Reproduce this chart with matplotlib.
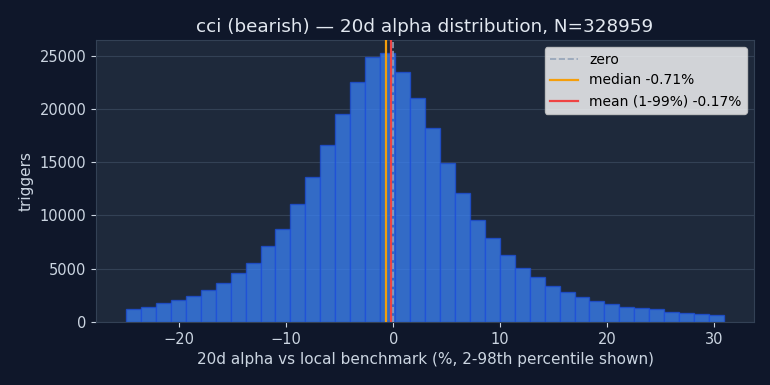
import numpy as np
import matplotlib
matplotlib.use("Agg")
import matplotlib.pyplot as plt

# Histogram data (2-98th percentile range, 40 bins)
p2_value = -25.0
p98_value = 30.95
n_bins = 40
counts = [1180, 1370, 1760, 2040, 2420, 2960, 3620, 4560, 5500, 7100,
          8700, 11070, 13600, 16580, 19480, 22490, 24830, 25200, 23420, 20990,
          18170, 14890, 12070, 9540, 7850, 6260, 5020, 4180, 3330, 2770,
          2300, 1970, 1690, 1380, 1285, 1190, 910, 816, 722, 628]
median_value = -0.71
mean_value = -0.17
n_total = 328959
title = f"cci (bearish) \u2014 20d alpha distribution, N={n_total}"

edges = np.linspace(p2_value, p98_value, n_bins + 1)
centers = (edges[:-1] + edges[1:]) / 2

fig_bg = "#0f172a"
ax_bg = "#1e293b"
grid_c = "#334155"
text_c = "#cbd5e1"

fig = plt.figure(figsize=(7.7, 3.85), dpi=100, facecolor=fig_bg)
ax = fig.add_axes([0.1247, 0.164, 0.8545, 0.732])
ax.set_facecolor(ax_bg)

ax.hist(centers, bins=edges, weights=counts, color="#3b82f6", alpha=0.75,
        edgecolor="#1d4ed8", linewidth=1.0, zorder=2)

ax.axvline(0, color="#94a3b8", linestyle="--", linewidth=1.2, label="zero", zorder=3)
ax.axvline(median_value, color="#f59e0b", linewidth=1.6,
           label=f"median {median_value:.2f}%", zorder=3)
ax.axvline(mean_value, color="#ef4444", linewidth=1.6,
           label=f"mean (1-99%) {mean_value:.2f}%", zorder=3)

ax.grid(axis="y", color=grid_c, linewidth=0.8, zorder=0)
ax.set_axisbelow(True)
for s in ax.spines.values():
    s.set_color(grid_c)
ax.tick_params(colors=text_c, labelsize=10.5)

ax.set_title(title, color="#e2e8f0", fontsize=13.2)
ax.set_xlabel("20d alpha vs local benchmark (%, 2-98th percentile shown)", color=text_c, fontsize=11)
ax.set_ylabel("triggers", color=text_c, fontsize=11)

leg = ax.legend(loc="upper right", fontsize=10)

fig.savefig("out.png", dpi=100, facecolor=fig_bg)
